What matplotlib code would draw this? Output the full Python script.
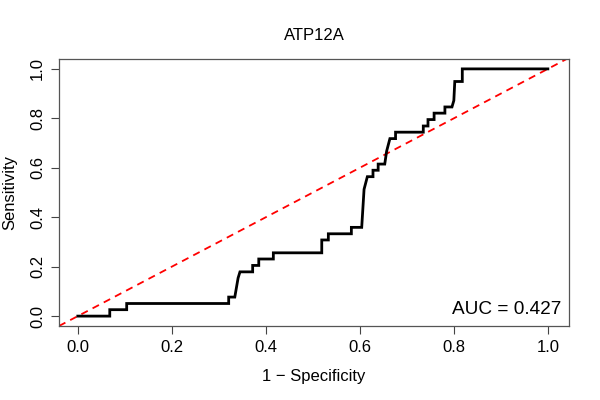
import matplotlib
matplotlib.use("Agg")
import matplotlib.pyplot as plt

plt.rcParams['font.family'] = ['Liberation Sans', 'DejaVu Sans']

# ROC curve vertices (1 - specificity, sensitivity)
fpr = [0.000, 0.068, 0.068, 0.104, 0.104, 0.321, 0.321, 0.334, 0.341, 0.345,
       0.372, 0.372, 0.385, 0.385, 0.416, 0.416, 0.519, 0.519, 0.533, 0.533,
       0.582, 0.582, 0.604, 0.609, 0.616, 0.628, 0.628, 0.639, 0.639, 0.653,
       0.657, 0.664, 0.676, 0.676, 0.735, 0.735, 0.745, 0.745, 0.758, 0.758,
       0.781, 0.781, 0.796, 0.800, 0.802, 0.818, 0.818, 1.000]
tpr = [0.000, 0.000, 0.026, 0.026, 0.051, 0.051, 0.077, 0.077, 0.154, 0.179,
       0.179, 0.205, 0.205, 0.231, 0.231, 0.256, 0.256, 0.308, 0.308, 0.333,
       0.333, 0.359, 0.359, 0.513, 0.564, 0.564, 0.590, 0.590, 0.615, 0.615,
       0.667, 0.718, 0.718, 0.744, 0.744, 0.769, 0.769, 0.795, 0.795, 0.821,
       0.821, 0.846, 0.846, 0.872, 0.949, 0.949, 1.000, 1.000]
auc = 0.427
title = "ATP12A"

fig = plt.figure(figsize=(6, 4), dpi=100)
ax = fig.add_axes([59/600, 1 - 326/400, 510/600, 267/400])

ax.plot(fpr, tpr, color='black', lw=2.0, solid_joinstyle='miter', zorder=3)
ax.axline((0, 0), slope=1, color='red', ls=(0, (4, 3)), lw=1.3, zorder=2)

ax.set_xlim(-0.04, 1.045)
ax.set_ylim(-0.04, 1.04)
ticks = [0, 0.2, 0.4, 0.6, 0.8, 1.0]
ax.set_xticks(ticks)
ax.set_yticks(ticks)
ax.set_xticklabels([f"{t:.1f}" for t in ticks])
ax.set_yticklabels([f"{t:.1f}" for t in ticks], rotation=90, va='center')
ax.tick_params(labelsize=12, length=6, width=0.8, color='#444444', pad=4)

for s in ax.spines.values():
    s.set_color('#555555')
    s.set_linewidth(0.9)

ax.set_xlabel("1 \u2212 Specificity", fontsize=12, labelpad=10)
ax.set_ylabel("Sensitivity", fontsize=12, labelpad=9)
ax.set_title(title, fontsize=12, pad=14)

ax.text(0.985, 0.045, f"AUC = {auc:.3f}", transform=ax.transAxes,
        ha='right', va='baseline', fontsize=13.7)

fig.savefig("out.png", dpi=100)
